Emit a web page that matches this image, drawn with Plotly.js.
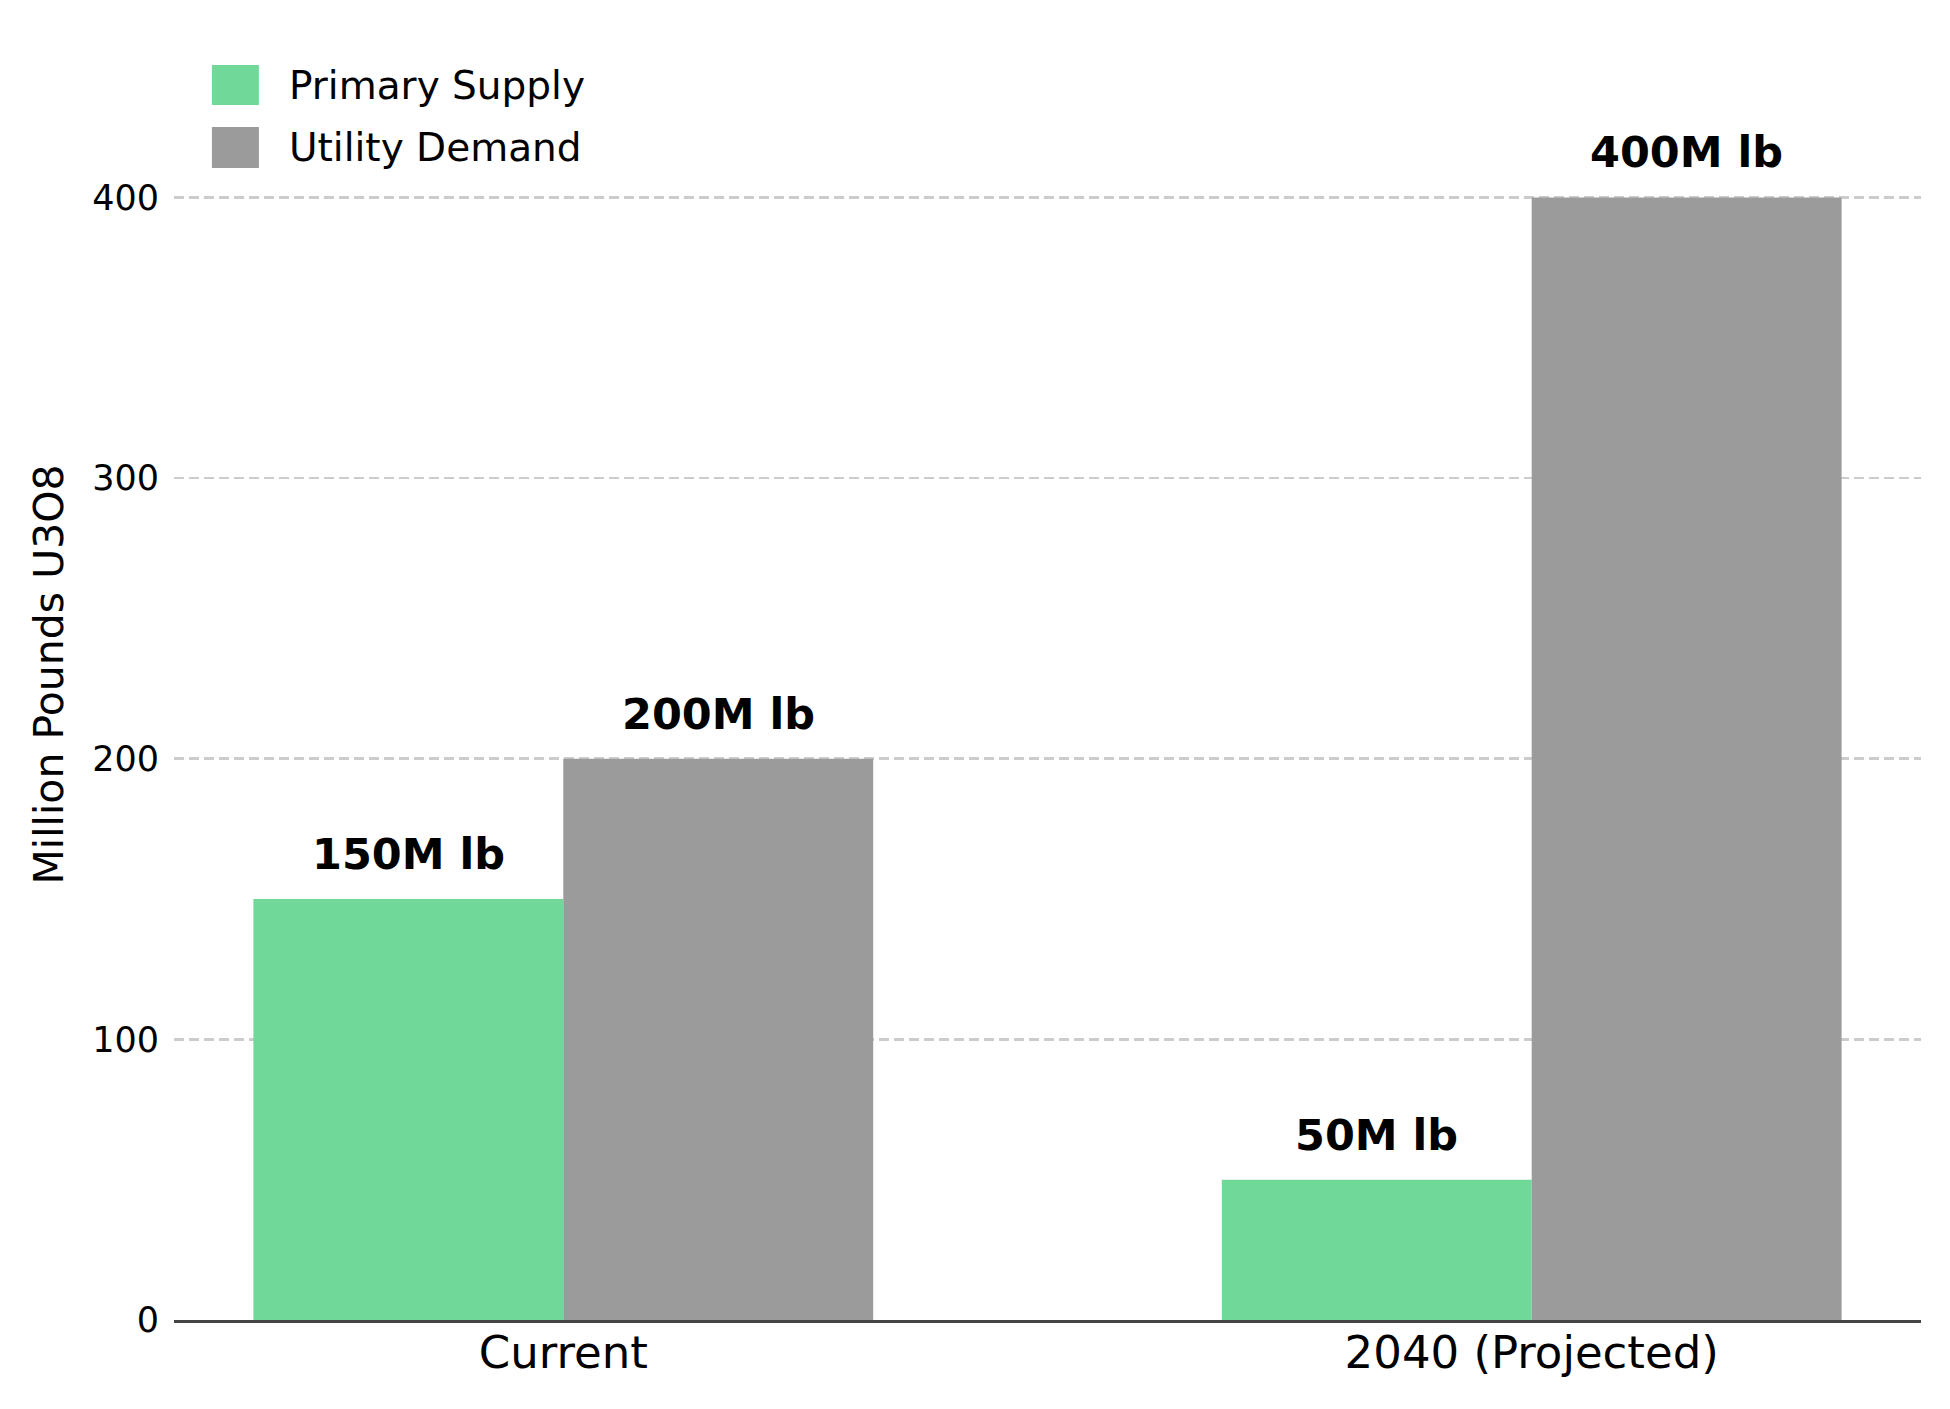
<!DOCTYPE html>
<html>
<head>
<meta charset="utf-8">
<script src="https://cdn.plot.ly/plotly-3.0.1.min.js"></script>
<style>html,body{margin:0;padding:0;background:#fff;}#chart{width:1950px;height:1409px;}</style>
</head>
<body>
<div id="chart"></div>
<script>
const categories = ["Current", "2040 (Projected)"];
const seriesNames = ["Primary Supply", "Utility Demand"];
const primarySupply = [150, 50];
const utilityDemand = [200, 400];
const valueLabels = [["150M lb", "50M lb"], ["200M lb", "400M lb"]];
const yTicks = [0, 100, 200, 300, 400];
const colors = ["#70d898", "#9b9b9b"];

const FONT = "DejaVu Sans, Verdana, sans-serif";
const seriesValues = [primarySupply, utilityDemand];

const traces = seriesValues.map((vals, s) => ({
  type: "bar",
  name: seriesNames[s],
  x: categories,
  y: vals,
  marker: {color: colors[s], line: {width: 0}},
  hoverinfo: "skip",
  showlegend: false
}));

// bar value annotations
const annotations = [];
const barW = 0.32;
seriesValues.forEach((vals, s) => {
  vals.forEach((v, i) => {
    annotations.push({
      x: i + (s === 0 ? -barW / 2 : barW / 2),
      y: v,
      xref: "x", yref: "y",
      text: valueLabels[s][i],
      showarrow: false,
      yanchor: "bottom",
      xanchor: "center",
      yshift: 18,
      font: {family: FONT, size: 43, color: "#000", weight: "bold"}
    });
  });
});

// custom legend (matplotlib-style big squares)
const legendRows = [
  {y0: 0.9411, y1: 0.9721, yc: 0.9566},
  {y0: 0.8924, y1: 0.9241, yc: 0.9082}
];
const shapes = [];
seriesNames.forEach((nm, s) => {
  shapes.push({
    type: "rect", xref: "paper", yref: "paper",
    x0: 0.0217, x1: 0.0486, y0: legendRows[s].y0, y1: legendRows[s].y1,
    fillcolor: colors[s], line: {width: 0}
  });
  annotations.push({
    xref: "paper", yref: "paper", x: 0.0646, y: legendRows[s].yc,
    xanchor: "left", yanchor: "middle", showarrow: false,
    text: nm, font: {family: FONT, size: 39, color: "#000"}
  });
});

const layout = {
  width: 1950, height: 1409,
  margin: {l: 174, r: 29, t: 29, b: 89, pad: 0},
  paper_bgcolor: "#ffffff", plot_bgcolor: "#ffffff",
  font: {family: FONT, color: "#000"},
  barmode: "group", bargap: 0.36, bargroupgap: 0,
  showlegend: false,
  xaxis: {
    type: "category",
    range: [-0.402, 1.402],
    showgrid: false, zeroline: false,
    showline: true, linecolor: "#444444", linewidth: 3,
    ticks: "", ticklabelstandoff: -9,
    tickfont: {family: FONT, size: 45, color: "#000"},
    fixedrange: true
  },
  yaxis: {
    range: [0, 460],
    tickvals: yTicks,
    ticktext: yTicks.map(String),
    showgrid: true, gridcolor: "#cccccc", gridwidth: 2.5, griddash: "10px,5px",
    zeroline: false, showline: false, ticks: "",
    ticklabelstandoff: 14,
    tickfont: {family: FONT, size: 35, color: "#000"},
    title: {text: "Million Pounds U3O8", font: {family: FONT, size: 41, color: "#000"}, standoff: 15},
    automargin: false,
    fixedrange: true
  },
  annotations: annotations,
  shapes: shapes
};

Plotly.newPlot("chart", traces, layout, {displayModeBar: false, staticPlot: true});
</script>
</body>
</html>
